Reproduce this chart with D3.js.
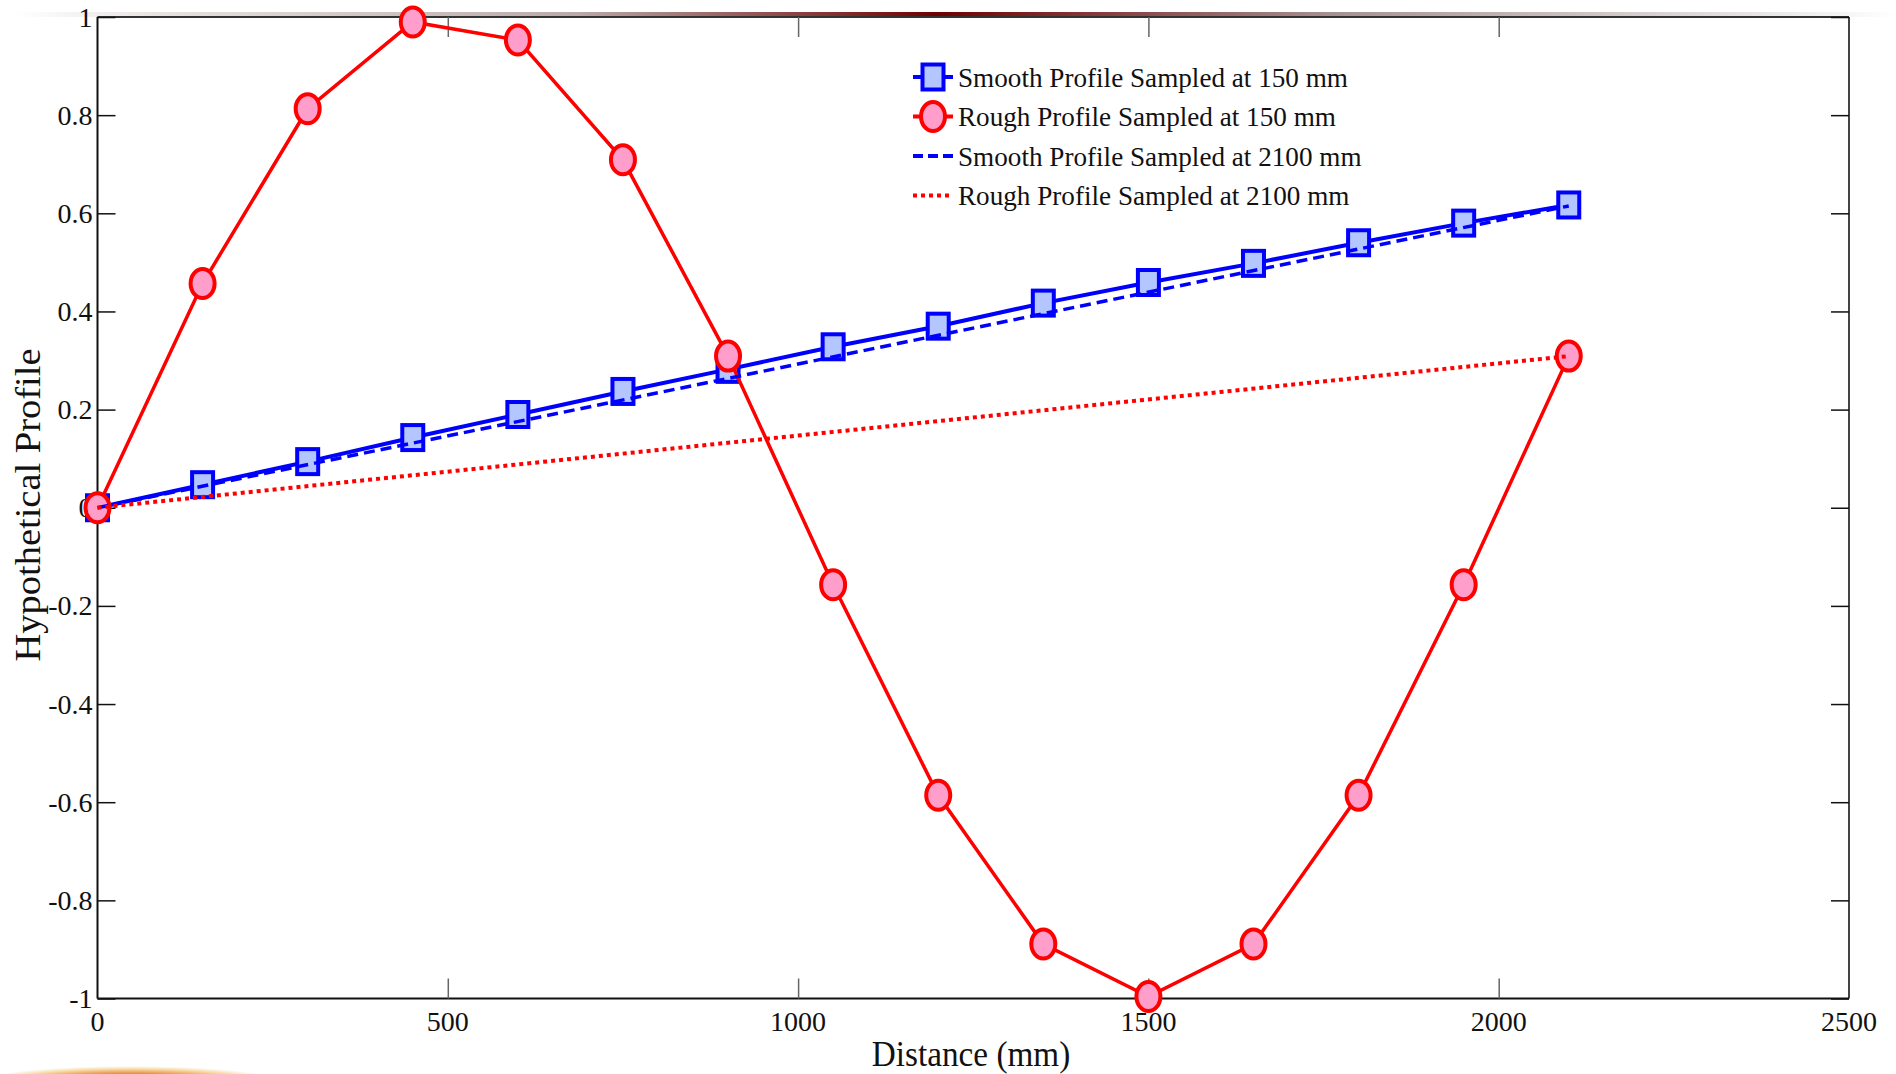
<!DOCTYPE html>
<html>
<head>
<meta charset="utf-8">
<script src="https://cdn.jsdelivr.net/npm/d3@7"></script>
<style>
  html, body { margin: 0; padding: 0; background: #fff; }
  svg { display: block; font-family: "Liberation Serif", "DejaVu Serif", serif; }
</style>
</head>
<body>
<svg id="chart" width="1896" height="1074"></svg>
<script>
/* ── DATA ───────────────────────────────────────────────────────────────────── */
const distance150  = [0, 150, 300, 450, 600, 750, 900, 1050, 1200, 1350, 1500, 1650, 1800, 1950, 2100];
const smooth150    = [0, 0.047, 0.094, 0.143, 0.19, 0.237, 0.282, 0.328, 0.37, 0.417, 0.459, 0.498, 0.54, 0.58, 0.617];
const rough150     = [0, 0.457, 0.813, 0.99, 0.953, 0.709, 0.309, -0.157, -0.586, -0.889, -0.996, -0.889, -0.586, -0.157, 0.309];
const distance2100 = [0, 2100];
const smooth2100   = [0, 0.615];
const rough2100    = [0, 0.309];

const xTicks = [0, 500, 1000, 1500, 2000, 2500];
const yTicks = [-1, -0.8, -0.6, -0.4, -0.2, 0, 0.2, 0.4, 0.6, 0.8, 1];

const legendItems = [
  'Smooth Profile Sampled at 150 mm',
  'Rough Profile Sampled at 150 mm',
  'Smooth Profile Sampled at 2100 mm',
  'Rough Profile Sampled at 2100 mm'
];

/* ── LAYOUT ─────────────────────────────────────────────────────────────────── */
const PLOT = { left: 97.5, right: 1849, top: 17, bottom: 998.5 };
const BLUE = '#0000ff', RED = '#ff0000';
const SQ_FILL = '#b3c6ff', CI_FILL = '#ff9ecb';

const svg = d3.select('#chart');
const x = d3.scaleLinear().domain([0, 2500]).range([PLOT.left, PLOT.right]);
const y = d3.scaleLinear().domain([-1, 1]).range([PLOT.bottom, PLOT.top]);

/* ── DECORATION (slide background bits) ─────────────────────────────────────── */
const defs = svg.append('defs');
const band = defs.append('linearGradient').attr('id', 'topband');
[[0, '#ffffff'], [0.08, '#e6e2e0'], [0.3, '#b9a9a8'], [0.49, '#6e0000'], [0.7, '#a69192'], [0.93, '#e9e6e6'], [1, '#ffffff']]
  .forEach(([o, c]) => band.append('stop').attr('offset', o).attr('stop-color', c));
svg.append('rect').attr('x', 15).attr('y', 12).attr('width', 1881).attr('height', 5).attr('fill', 'url(#topband)');

const blob = defs.append('radialGradient').attr('id', 'blob');
[[0, '#c0282a'], [0.45, '#e8782a'], [0.8, '#f8d8a0'], [1, '#ffffff']]
  .forEach(([o, c]) => blob.append('stop').attr('offset', o).attr('stop-color', c));
svg.append('ellipse').attr('cx', 130).attr('cy', 1082).attr('rx', 150).attr('ry', 16).attr('fill', 'url(#blob)');

/* ── FRAME & TICKS ──────────────────────────────────────────────────────────── */
const frame = svg.append('g');
frame.append('line').attr('x1', PLOT.left).attr('x2', PLOT.right).attr('y1', PLOT.top).attr('y2', PLOT.top)
  .attr('stroke', '#333').attr('stroke-width', 2);
frame.append('line').attr('x1', PLOT.right).attr('x2', PLOT.right).attr('y1', PLOT.top).attr('y2', PLOT.bottom)
  .attr('stroke', '#444').attr('stroke-width', 2);
frame.append('line').attr('x1', PLOT.left).attr('x2', PLOT.right).attr('y1', PLOT.bottom).attr('y2', PLOT.bottom)
  .attr('stroke', '#111').attr('stroke-width', 2);
frame.append('line').attr('x1', PLOT.left).attr('x2', PLOT.left).attr('y1', PLOT.top).attr('y2', PLOT.bottom)
  .attr('stroke', '#111').attr('stroke-width', 2);

// plain hyphen-minus, as in the original figure
const fmtY = d => String(Math.round(d * 10) / 10);

// y ticks (inward, both sides) via d3 axes
svg.append('g').attr('transform', `translate(${PLOT.left},0)`)
  .call(d3.axisRight(y).tickValues(yTicks).tickSize(18).tickFormat(''))
  .call(g => g.select('.domain').remove())
  .call(g => g.selectAll('line').attr('stroke', '#111').attr('stroke-width', 1.5));
svg.append('g').attr('transform', `translate(${PLOT.right},0)`)
  .call(d3.axisLeft(y).tickValues(yTicks).tickSize(18).tickFormat(''))
  .call(g => g.select('.domain').remove())
  .call(g => g.selectAll('line').attr('stroke', '#111').attr('stroke-width', 1.5));

// x ticks (inward, top and bottom)
svg.append('g').attr('transform', `translate(0,${PLOT.bottom})`)
  .call(d3.axisTop(x).tickValues(xTicks.slice(1, -1)).tickSize(20).tickFormat(''))
  .call(g => g.select('.domain').remove())
  .call(g => g.selectAll('line').attr('stroke', '#666').attr('stroke-width', 1.5));
svg.append('g').attr('transform', `translate(0,${PLOT.top})`)
  .call(d3.axisBottom(x).tickValues(xTicks.slice(1, -1)).tickSize(20).tickFormat(''))
  .call(g => g.select('.domain').remove())
  .call(g => g.selectAll('line').attr('stroke', '#666').attr('stroke-width', 1.5));

// tick labels
svg.append('g').selectAll('text').data(yTicks).join('text')
  .attr('x', PLOT.left - 5).attr('y', d => y(d)).attr('dy', '0.34em')
  .attr('text-anchor', 'end').attr('font-size', 28).attr('fill', '#111')
  .text(fmtY);
svg.append('g').selectAll('text').data(xTicks).join('text')
  .attr('x', d => x(d)).attr('y', 1031)
  .attr('text-anchor', 'middle').attr('font-size', 28).attr('fill', '#111')
  .text(d => d);

// axis titles
svg.append('text').attr('transform', 'translate(971,1066) scale(0.95,1)').attr('text-anchor', 'middle')
  .attr('font-size', 35).attr('fill', '#111').text('Distance (mm)');
svg.append('text').attr('transform', 'translate(40,505) rotate(-90) scale(1.1,1)').attr('text-anchor', 'middle')
  .attr('font-size', 35).attr('fill', '#111').text('Hypothetical Profile');

/* ── SERIES ─────────────────────────────────────────────────────────────────── */
const line = d3.line().x(d => x(d[0])).y(d => y(d[1]));
const zip = (a, b) => a.map((v, i) => [v, b[i]]);

const s150 = zip(distance150, smooth150);
const r150 = zip(distance150, rough150);

svg.append('path').datum(s150).attr('d', line)
  .attr('fill', 'none').attr('stroke', BLUE).attr('stroke-width', 4);
svg.append('g').selectAll('rect').data(s150).join('rect')
  .attr('x', d => x(d[0]) - 10.5).attr('y', d => y(d[1]) - 12.5)
  .attr('width', 21).attr('height', 25)
  .attr('fill', SQ_FILL).attr('stroke', BLUE).attr('stroke-width', 4);

svg.append('path').datum(r150).attr('d', line)
  .attr('fill', 'none').attr('stroke', RED).attr('stroke-width', 3.5);
svg.append('g').selectAll('ellipse').data(r150).join('ellipse')
  .attr('cx', d => x(d[0])).attr('cy', d => y(d[1]))
  .attr('rx', 12).attr('ry', 14.5)
  .attr('fill', CI_FILL).attr('stroke', RED).attr('stroke-width', 4);

svg.append('path').datum(zip(distance2100, smooth2100)).attr('d', line)
  .attr('fill', 'none').attr('stroke', BLUE).attr('stroke-width', 3.5).attr('stroke-dasharray', '11 6');
svg.append('path').datum(zip(distance2100, rough2100)).attr('d', line)
  .attr('fill', 'none').attr('stroke', RED).attr('stroke-width', 4).attr('stroke-dasharray', '4 4');

/* ── LEGEND ─────────────────────────────────────────────────────────────────── */
const legend = svg.append('g').attr('transform', 'translate(913,77)');
legendItems.forEach((label, i) => {
  const g = legend.append('g').attr('transform', `translate(0,${i * 39.5})`);
  const ln = g.append('line').attr('x1', 0).attr('x2', 40).attr('y1', 0).attr('y2', 0);
  if (i === 0) {
    ln.attr('stroke', BLUE).attr('stroke-width', 4);
    g.append('rect').attr('x', 9.5).attr('y', -12.5).attr('width', 21).attr('height', 25)
      .attr('fill', SQ_FILL).attr('stroke', BLUE).attr('stroke-width', 4);
  } else if (i === 1) {
    ln.attr('stroke', RED).attr('stroke-width', 4);
    g.append('ellipse').attr('cx', 20).attr('cy', 0).attr('rx', 12).attr('ry', 14.5)
      .attr('fill', CI_FILL).attr('stroke', RED).attr('stroke-width', 4);
  } else if (i === 2) {
    ln.attr('stroke', BLUE).attr('stroke-width', 4).attr('stroke-dasharray', '10 5');
  } else {
    ln.attr('stroke', RED).attr('stroke-width', 4).attr('stroke-dasharray', '4 4');
  }
  g.append('text').attr('transform', 'translate(45,0) scale(0.97,1)').attr('dy', '0.34em')
    .attr('font-size', 28).attr('fill', '#111').text(label);
});
</script>
</body>
</html>
